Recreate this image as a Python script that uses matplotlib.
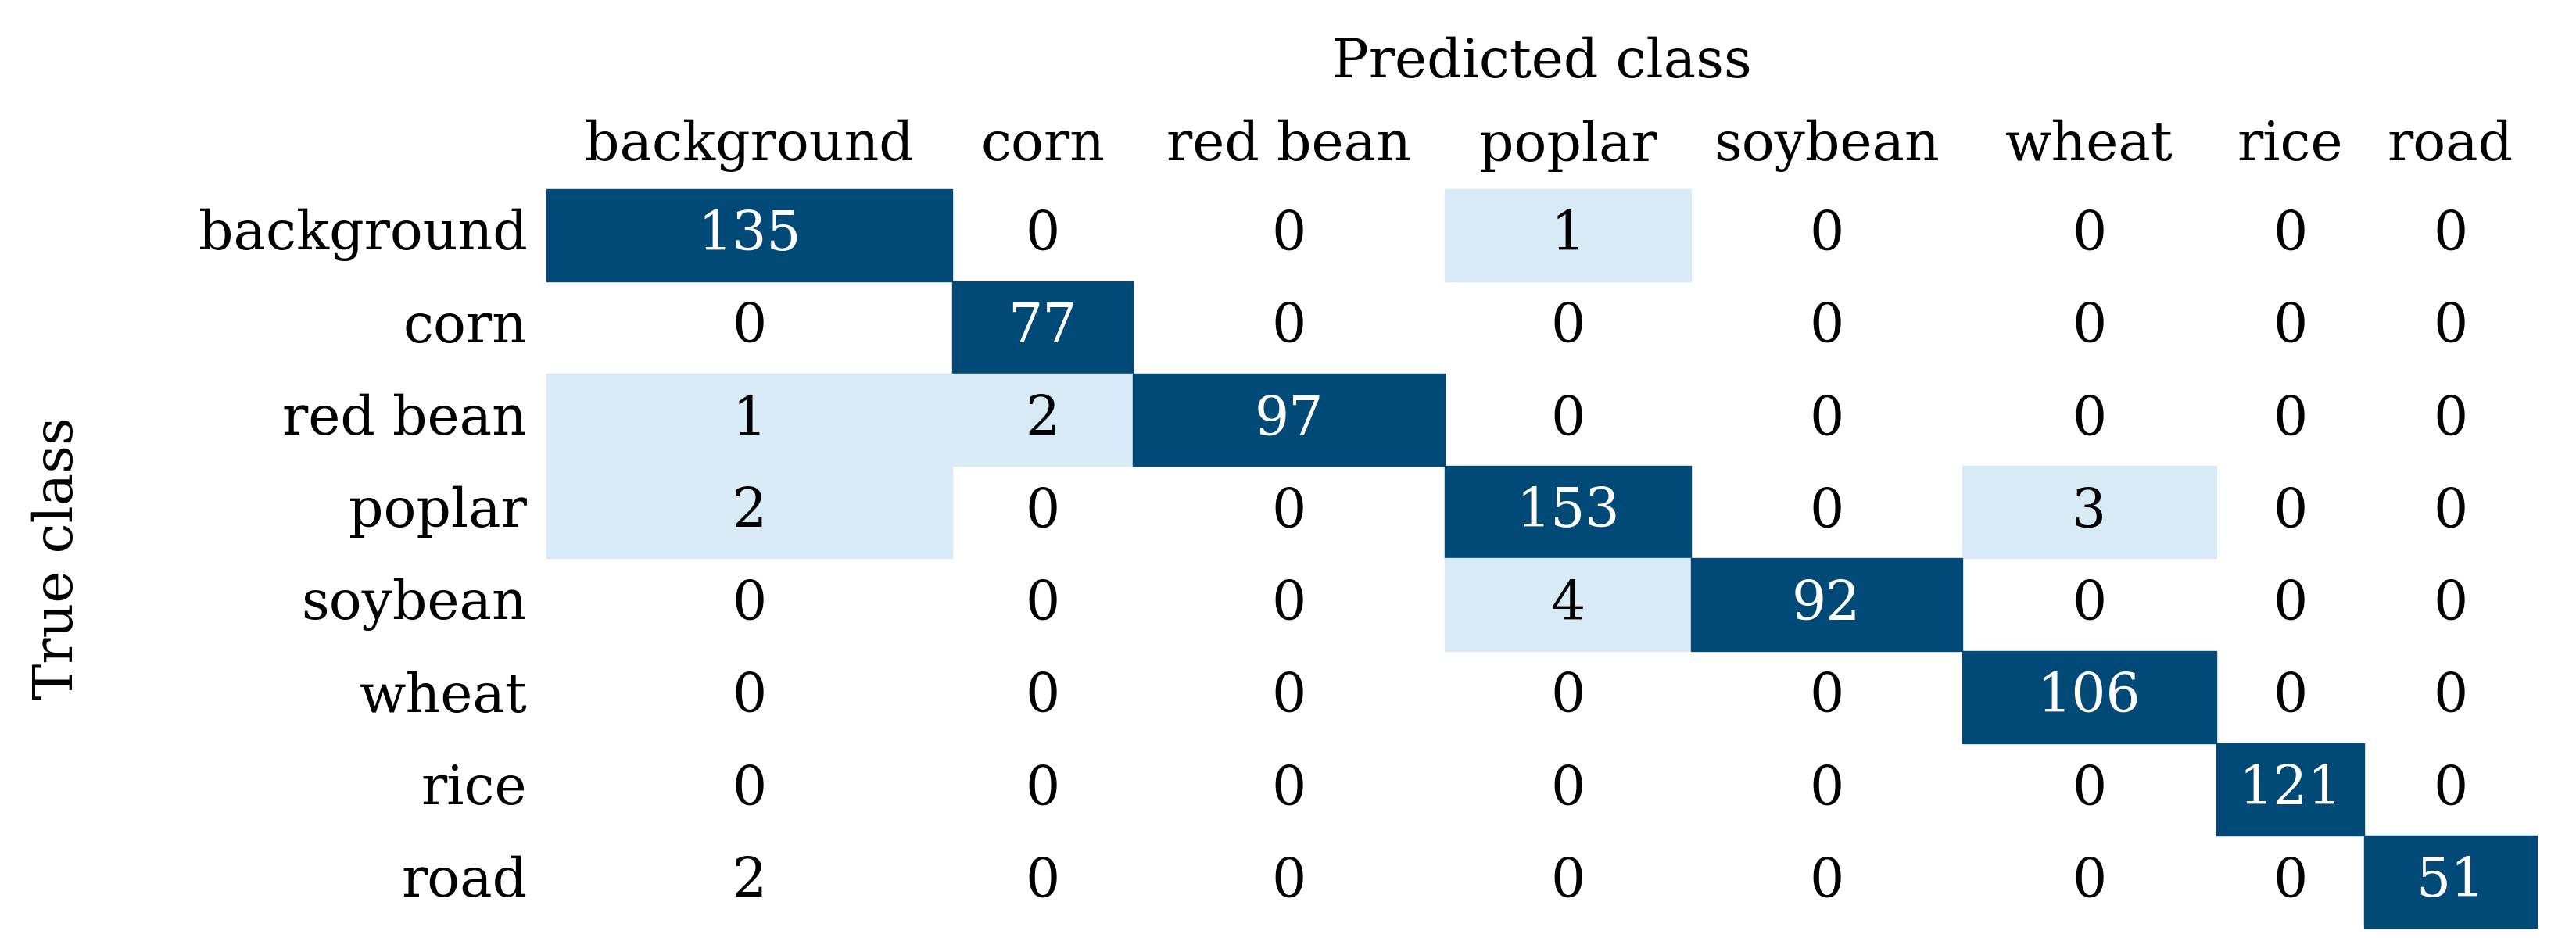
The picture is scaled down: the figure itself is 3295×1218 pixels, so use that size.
import numpy as np
import matplotlib
matplotlib.use("Agg")
import matplotlib.pyplot as plt
from matplotlib.patches import Rectangle

classes = ["background", "corn", "red bean", "poplar", "soybean", "wheat", "rice", "road"]
matrix = np.array([
    [135, 0, 0, 1, 0, 0, 0, 0],
    [0, 77, 0, 0, 0, 0, 0, 0],
    [1, 2, 97, 0, 0, 0, 0, 0],
    [2, 0, 0, 153, 0, 3, 0, 0],
    [0, 0, 0, 4, 92, 0, 0, 0],
    [0, 0, 0, 0, 0, 106, 0, 0],
    [0, 0, 0, 0, 0, 0, 121, 0],
    [2, 0, 0, 0, 0, 0, 0, 51],
])
# off-diagonal cells shaded light in the original
light_cells = [(0, 3), (2, 0), (2, 1), (3, 0), (3, 5), (4, 3)]

# column edges / row layout in pixels (widths follow label widths)
col_edges = np.array([333, 580, 690, 880, 1030, 1195, 1350, 1440, 1545]) * 2.1
row_top, row_h = 115 * 2.1, 56.3 * 2.1

DARK = "#014a78"
LIGHT = "#d7eaf6"
FS = 50
plt.rcParams["font.family"] = ["DejaVu Serif"]

fig = plt.figure(figsize=(32.95, 12.18), dpi=100)
ax = fig.add_axes([0, 0, 1, 1])
ax.set_xlim(0, 3295)
ax.set_ylim(1218, 0)
ax.axis("off")

for i in range(len(classes)):
    y0 = row_top + i * row_h
    yc = y0 + row_h / 2
    ax.text(col_edges[0] - 25, yc, classes[i], ha="right", va="center", fontsize=FS)
    for j in range(len(classes)):
        x0, x1 = col_edges[j], col_edges[j + 1]
        color = "black"
        if i == j:
            ax.add_patch(Rectangle((x0, y0), x1 - x0, row_h, color=DARK))
            color = "white"
        elif (i, j) in light_cells:
            ax.add_patch(Rectangle((x0, y0), x1 - x0, row_h, color=LIGHT))
        ax.text((x0 + x1) / 2, yc, str(matrix[i, j]), ha="center", va="center",
                fontsize=FS, color=color)

for j, name in enumerate(classes):
    ax.text((col_edges[j] + col_edges[j + 1]) / 2, row_top - 22, name,
            ha="center", va="bottom", fontsize=FS)

ax.text((col_edges[0] + col_edges[-1]) / 2, 2.1 * 38, "Predicted class",
        ha="center", va="center", fontsize=FS)
ax.text(2.1 * 35, row_top + 4 * row_h, "True class", ha="center", va="center",
        rotation=90, fontsize=FS)

fig.savefig("out.png", dpi=100)
